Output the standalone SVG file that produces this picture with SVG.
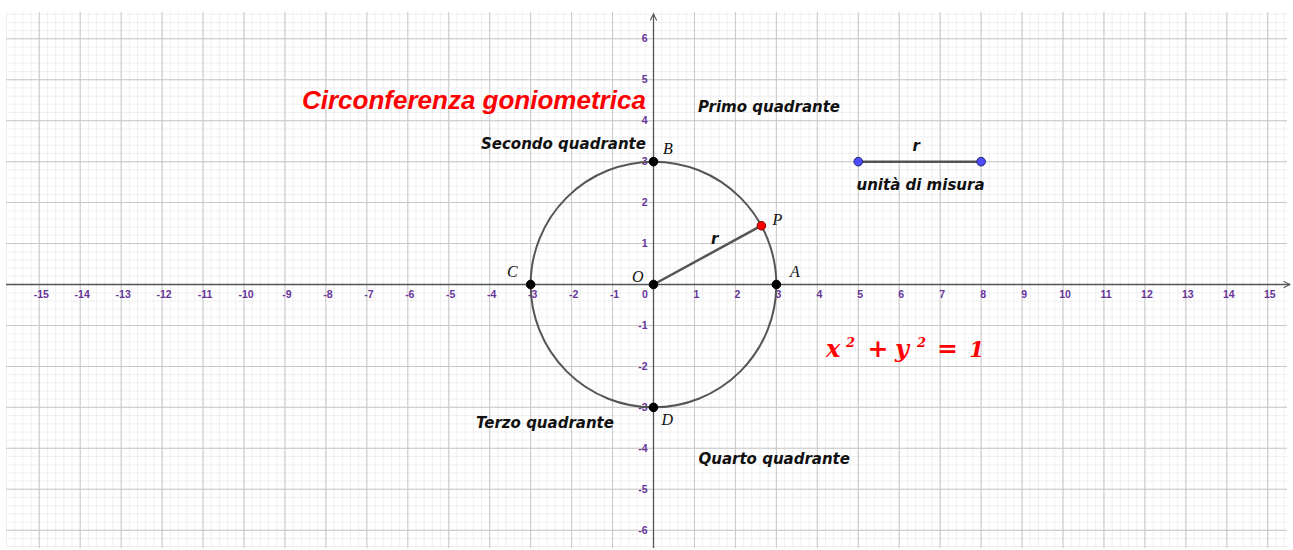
<svg xmlns="http://www.w3.org/2000/svg" width="1293" height="550" viewBox="0 0 1293 550">
<style>
.tick{font-family:"Liberation Sans",Arial,sans-serif;font-weight:bold;font-size:10.5px;fill:#663399}
.tx{text-anchor:middle}
.ty{text-anchor:end}
.lbl{font-family:"DejaVu Sans","Liberation Sans",sans-serif;font-weight:bold;font-style:italic;font-size:15px;fill:#111}
.pl{font-family:"Liberation Serif","Times New Roman",serif;font-style:italic;font-size:16px;fill:#111}
.eq{font-family:"DejaVu Serif","Liberation Serif",serif;font-style:italic;font-weight:bold;fill:#ff0000}
.pt{fill:#000;stroke:#000;stroke-width:1}
.curve{fill:none;stroke:#555;stroke-width:2}
.seg{stroke:#555;stroke-width:2.5}
</style>
<defs>
<marker id="arr" viewBox="0 0 10 10" refX="9" refY="5" markerWidth="8" markerHeight="8" orient="auto" markerUnits="userSpaceOnUse">
<path d="M1 1L9 5L1 9" fill="none" stroke="#555" stroke-width="1.3"/>
</marker>
</defs>
<rect width="1293" height="550" fill="#fff"/>
<g id="grid">
<line x1="6" y1="280" x2="1287" y2="280" stroke="#efefef" stroke-width="536" stroke-dasharray="1 7.19"/>
<line x1="646.5" y1="12" x2="646.5" y2="548" stroke="#efefef" stroke-width="1281" stroke-dasharray="1 7.19" stroke-dashoffset="6.46"/>
<line x1="6" y1="280" x2="1287" y2="280" stroke="#c8c8c8" stroke-width="536" stroke-dasharray="1 39.95" stroke-dashoffset="8.2"/>
<line x1="646.5" y1="12" x2="646.5" y2="548" stroke="#c8c8c8" stroke-width="1281" stroke-dasharray="1 39.95" stroke-dashoffset="14.65"/>
</g>
<g id="axes">
<line x1="6" y1="284.5" x2="1290" y2="284.5" stroke="#555" stroke-width="1.3" marker-end="url(#arr)"/>
<line x1="653.5" y1="548" x2="653.5" y2="14" stroke="#555" stroke-width="1.3" marker-end="url(#arr)"/>
</g>
<g id="xticks" class="tick tx">
<text x="41.25" y="297.5">-15</text><text x="82.2" y="297.5">-14</text><text x="123.15" y="297.5">-13</text><text x="164.1" y="297.5">-12</text><text x="205.05" y="297.5">-11</text><text x="246" y="297.5">-10</text><text x="286.95" y="297.5">-9</text><text x="327.9" y="297.5">-8</text><text x="368.85" y="297.5">-7</text><text x="409.8" y="297.5">-6</text><text x="450.75" y="297.5">-5</text><text x="491.7" y="297.5">-4</text><text x="532.65" y="297.5">-3</text><text x="573.6" y="297.5">-2</text><text x="614.55" y="297.5">-1</text>
<text x="645" y="297.5">0</text>
<text x="696.45" y="297.5">1</text><text x="737.4" y="297.5">2</text><text x="778.35" y="297.5">3</text><text x="819.3" y="297.5">4</text><text x="860.25" y="297.5">5</text><text x="901.2" y="297.5">6</text><text x="942.15" y="297.5">7</text><text x="983.1" y="297.5">8</text><text x="1024.05" y="297.5">9</text><text x="1065" y="297.5">10</text><text x="1105.95" y="297.5">11</text><text x="1146.9" y="297.5">12</text><text x="1187.85" y="297.5">13</text><text x="1228.8" y="297.5">14</text><text x="1269.75" y="297.5">15</text>
</g>
<g id="yticks" class="tick ty">
<text x="647.5" y="42.3">6</text><text x="647.5" y="83.25">5</text><text x="647.5" y="124.2">4</text><text x="647.5" y="165.15">3</text><text x="647.5" y="206.1">2</text><text x="647.5" y="247.05">1</text>
<text x="647.5" y="328.95">-1</text><text x="647.5" y="369.9">-2</text><text x="647.5" y="410.85">-3</text><text x="647.5" y="451.8">-4</text><text x="647.5" y="492.75">-5</text><text x="647.5" y="533.7">-6</text>
</g>
<g id="connectors">
<circle cx="653.5" cy="284.5" r="122.85" class="curve"/>
<line x1="653.5" y1="284.5" x2="761.4" y2="225.7" class="seg"/>
<line x1="858.25" y1="161.65" x2="981.1" y2="161.65" class="seg"/>
</g>
<g id="title"><text x="302" y="108.5" style="font-family:'Liberation Sans',Arial,sans-serif;font-weight:bold;font-style:italic;font-size:26px;fill:#ff0000">Circonferenza goniometrica</text></g>
<g id="q1"><text x="698" y="112" class="lbl">Primo quadrante</text></g>
<g id="q2"><text x="481" y="148.5" class="lbl">Secondo quadrante</text></g>
<g id="q3"><text x="476" y="427.5" class="lbl">Terzo quadrante</text></g>
<g id="q4"><text x="698.5" y="464" class="lbl">Quarto quadrante</text></g>
<g id="rlabel"><text x="711" y="244" class="lbl">r</text></g>
<g id="unit">
<text x="912.5" y="150.5" class="lbl">r</text>
<text x="856.5" y="189.5" class="lbl">unità di misura</text>
<circle cx="858.25" cy="161.65" r="4.3" fill="#4d4dff" stroke="#22226e" stroke-width="1"/>
<circle cx="981.1" cy="161.65" r="4.3" fill="#4d4dff" stroke="#22226e" stroke-width="1"/>
</g>
<g id="pO"><circle cx="653.5" cy="284.5" r="4.3" class="pt"/><text x="632" y="282" class="pl">O</text></g>
<g id="pA"><circle cx="776.35" cy="284.5" r="4.3" class="pt"/><text x="790" y="277" class="pl">A</text></g>
<g id="pB"><circle cx="653.5" cy="161.65" r="4.3" class="pt"/><text x="663" y="154" class="pl">B</text></g>
<g id="pC"><circle cx="530.65" cy="284.5" r="4.3" class="pt"/><text x="507" y="277" class="pl">C</text></g>
<g id="pD"><circle cx="653.5" cy="407.35" r="4.3" class="pt"/><text x="661.5" y="424.5" class="pl">D</text></g>
<g id="pP"><circle cx="761.4" cy="225.7" r="4.3" fill="#ff0000" stroke="#7a0000" stroke-width="1"/><text x="772.5" y="225" class="pl">P</text></g>
<g id="equation" class="eq">
<text x="826" y="357" font-size="24">x</text>
<text x="846" y="346.5" font-size="13">2</text>
<text x="878" y="357" font-size="25" text-anchor="middle" style="font-style:normal">+</text>
<text x="895" y="357" font-size="24">y</text>
<text x="917" y="346.5" font-size="13">2</text>
<text x="947.5" y="357" font-size="25" text-anchor="middle" style="font-style:normal">=</text>
<text x="969" y="357" font-size="22">1</text>
</g>
</svg>
